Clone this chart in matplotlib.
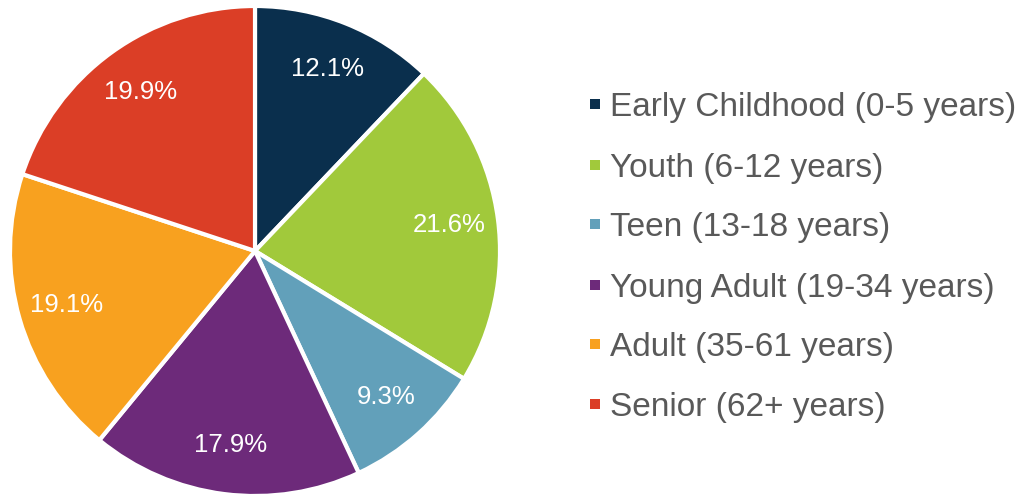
import matplotlib
matplotlib.use("Agg")
import matplotlib.pyplot as plt
from matplotlib.patches import Rectangle

# Share of population by age group
categories = [
    "Early Childhood (0-5 years)",
    "Youth (6-12 years)",
    "Teen (13-18 years)",
    "Young Adult (19-34 years)",
    "Adult (35-61 years)",
    "Senior (62+ years)",
]
shares = [12.1, 21.6, 9.3, 17.9, 19.1, 19.9]
colors = ["#0A2F4D", "#A1C93B", "#62A0BA", "#6D2A7A", "#F8A11F", "#DB3E26"]

W, H = 1024, 499
fig = plt.figure(figsize=(W / 100, H / 100), dpi=100)
fig.patch.set_facecolor("white")
plt.rcParams["font.family"] = ["Liberation Sans", "DejaVu Sans"]

# pie axes: centre (255, 251) px, radius 245 px
cx, cy, r = 255, 251, 245
ax = fig.add_axes([(cx - r) / W, (H - cy - r) / H, 2 * r / W, 2 * r / H])
wedges, texts = ax.pie(
    shares,
    colors=colors,
    startangle=90,
    counterclock=False,
    labels=[f"{v:.1f}%" for v in shares],
    labeldistance=0.8,
    wedgeprops=dict(edgecolor="white", linewidth=3),
    textprops=dict(color="white", fontsize=18.5),
)
for t in texts:
    t.set_horizontalalignment("center")
    t.set_verticalalignment("center")
ax.set_xlim(-1, 1)
ax.set_ylim(-1, 1)
ax.set_aspect("equal")
ax.axis("off")

# legend drawn as marker squares plus labels
row_y = [104, 165, 224, 285, 344, 404]
for label, col, y in zip(categories, colors, row_y):
    fig.patches.append(
        Rectangle(((590) / W, (H - y - 5) / H), 10 / W, 10 / H,
                  transform=fig.transFigure, facecolor=col, edgecolor="none")
    )
    fig.text(610 / W, (H - y) / H, label, fontsize=24, color="#595959",
             ha="left", va="center_baseline")

fig.savefig("out.png", dpi=100, facecolor="white")
